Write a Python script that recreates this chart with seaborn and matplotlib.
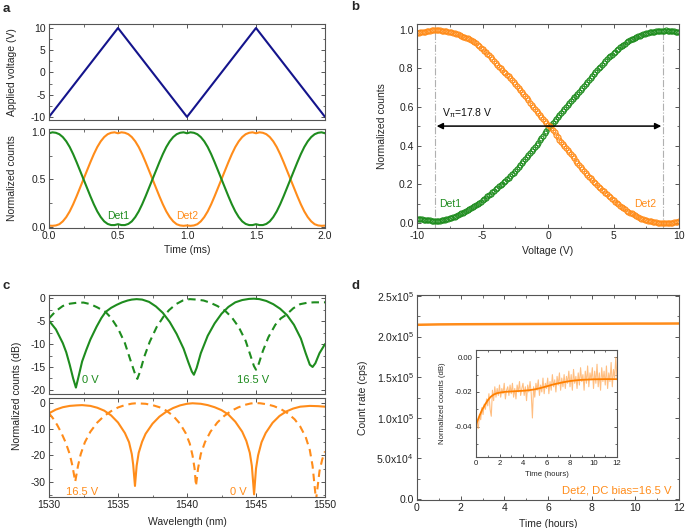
import numpy as np
import pandas as pd
import matplotlib
matplotlib.use("Agg")
import matplotlib.pyplot as plt
import seaborn as sns
from matplotlib.ticker import MultipleLocator, FuncFormatter

# ---------------- data ----------------
# panel a (top): applied voltage triangle
a_time_v = [0.0, 0.5, 1.0, 1.5, 2.0]
a_voltage = [-10, 10, -10, 10, -10]

# panel a (bottom): normalized counts, sampled every 0.025 ms from 0 to 2 ms
a_det1 = [0.985, 0.995, 0.99, 0.975, 0.945, 0.90, 0.84, 0.765, 0.68, 0.59, 0.50, 0.41, 0.32, 0.235, 0.16, 0.10, 0.055, 0.028, 0.016, 0.016, 0.025,
          0.016, 0.016, 0.028, 0.055, 0.10, 0.16, 0.235, 0.32, 0.41, 0.50, 0.59, 0.68, 0.765, 0.84, 0.90, 0.945, 0.975, 0.99, 0.995, 0.985,
          0.995, 0.99, 0.975, 0.945, 0.90, 0.84, 0.765, 0.68, 0.59, 0.50, 0.41, 0.32, 0.235, 0.16, 0.10, 0.055, 0.028, 0.016, 0.016, 0.025,
          0.016, 0.016, 0.028, 0.055, 0.10, 0.16, 0.235, 0.32, 0.41, 0.50, 0.59, 0.68, 0.765, 0.84, 0.90, 0.945, 0.975, 0.99, 0.995, 0.985]
a_det2 = [0.01, 0.008, 0.012, 0.025, 0.055, 0.10, 0.16, 0.235, 0.32, 0.41, 0.50, 0.59, 0.68, 0.765, 0.84, 0.90, 0.945, 0.975, 0.99, 0.995, 0.985,
          0.995, 0.99, 0.975, 0.945, 0.90, 0.84, 0.765, 0.68, 0.59, 0.50, 0.41, 0.32, 0.235, 0.16, 0.10, 0.055, 0.025, 0.012, 0.008, 0.012,
          0.008, 0.012, 0.025, 0.055, 0.10, 0.16, 0.235, 0.32, 0.41, 0.50, 0.59, 0.68, 0.765, 0.84, 0.90, 0.945, 0.975, 0.99, 0.995, 0.985,
          0.995, 0.99, 0.975, 0.945, 0.90, 0.84, 0.765, 0.68, 0.59, 0.50, 0.41, 0.32, 0.235, 0.16, 0.10, 0.055, 0.025, 0.012, 0.008, 0.01]

# panel b: counts vs voltage, sampled every 0.125 V from -10 to 10 V
b_det1 = [0.022, 0.021, 0.02, 0.019, 0.018, 0.017, 0.016, 0.015, 0.014, 0.0135,
          0.013, 0.0125, 0.012, 0.0125, 0.013, 0.014, 0.015, 0.017, 0.02, 0.022,
          0.025, 0.028, 0.031, 0.034, 0.038, 0.042, 0.046, 0.05, 0.055, 0.06,
          0.065, 0.07, 0.075, 0.08, 0.085, 0.09, 0.095, 0.1, 0.106, 0.112,
          0.118, 0.124, 0.131, 0.138, 0.145, 0.152, 0.16, 0.167, 0.175, 0.182,
          0.19, 0.197, 0.205, 0.212, 0.22, 0.227, 0.235, 0.243, 0.252, 0.261,
          0.27, 0.28, 0.29, 0.30, 0.31, 0.32, 0.33, 0.34, 0.35, 0.361,
          0.372, 0.383, 0.395, 0.406, 0.417, 0.428, 0.44, 0.452, 0.465, 0.477,
          0.49, 0.50, 0.51, 0.52, 0.53, 0.54, 0.55, 0.56, 0.57, 0.58,
          0.59, 0.60, 0.61, 0.62, 0.63, 0.64, 0.65, 0.66, 0.67, 0.68,
          0.69, 0.70, 0.71, 0.72, 0.73, 0.74, 0.75, 0.76, 0.77, 0.78,
          0.79, 0.80, 0.81, 0.82, 0.83, 0.84, 0.85, 0.857, 0.865, 0.872,
          0.88, 0.887, 0.895, 0.902, 0.91, 0.916, 0.923, 0.929, 0.935, 0.94,
          0.945, 0.95, 0.955, 0.959, 0.963, 0.966, 0.97, 0.973, 0.977, 0.98,
          0.983, 0.985, 0.987, 0.988, 0.99, 0.991, 0.993, 0.994, 0.995, 0.995,
          0.996, 0.996, 0.997, 0.996, 0.995, 0.994, 0.993, 0.992, 0.991, 0.99,
          0.99]
b_det2 = [0.985, 0.986, 0.988, 0.989, 0.99, 0.991, 0.993, 0.994, 0.996, 0.997,
          0.999, 1.0, 1.0, 0.999, 0.998, 0.996, 0.995, 0.994, 0.993, 0.991,
          0.99, 0.987, 0.985, 0.982, 0.98, 0.976, 0.973, 0.969, 0.965, 0.962,
          0.96, 0.957, 0.955, 0.949, 0.943, 0.936, 0.93, 0.922, 0.915, 0.907,
          0.90, 0.892, 0.885, 0.877, 0.87, 0.86, 0.85, 0.84, 0.83, 0.82,
          0.81, 0.80, 0.79, 0.782, 0.775, 0.767, 0.76, 0.75, 0.74, 0.73,
          0.72, 0.71, 0.70, 0.69, 0.68, 0.668, 0.657, 0.646, 0.635, 0.623,
          0.612, 0.601, 0.59, 0.58, 0.57, 0.56, 0.55, 0.54, 0.53, 0.52,
          0.51, 0.50, 0.49, 0.48, 0.47, 0.457, 0.445, 0.432, 0.42, 0.41,
          0.40, 0.39, 0.38, 0.368, 0.357, 0.346, 0.335, 0.323, 0.312, 0.301,
          0.29, 0.28, 0.27, 0.26, 0.25, 0.241, 0.232, 0.223, 0.215, 0.206,
          0.197, 0.188, 0.18, 0.172, 0.165, 0.157, 0.15, 0.142, 0.135, 0.127,
          0.12, 0.112, 0.105, 0.097, 0.09, 0.083, 0.077, 0.071, 0.065, 0.06,
          0.055, 0.05, 0.045, 0.04, 0.036, 0.031, 0.027, 0.024, 0.021, 0.018,
          0.015, 0.013, 0.011, 0.009, 0.007, 0.005, 0.004, 0.003, 0.002, 0.001,
          0.001, 0.0, 0.0, 0.0, 0.001, 0.002, 0.003, 0.004, 0.006, 0.008,
          0.01]
b_vpi_left, b_vpi_right = -8.65, 8.8

# panel c: transmission spectra (dB)
c_g0_wl = [1530.0, 1530.5, 1531.0, 1531.25, 1531.5, 1531.75, 1531.95, 1532.15, 1532.4, 1532.7, 1533.0, 1533.45, 1533.8, 1534.1,
           1534.5, 1534.9, 1535.3, 1535.7, 1536.0, 1536.35, 1536.75, 1537.25, 1537.75, 1538.25, 1538.75, 1539.25, 1539.75,
           1540.1, 1540.35, 1540.5, 1540.7, 1541.0, 1541.5, 1542.0, 1542.5, 1543.0, 1543.5, 1544.0, 1544.5, 1544.85, 1545.25,
           1545.75, 1546.25, 1546.75, 1547.25, 1547.75, 1548.25, 1548.6, 1548.9, 1549.1, 1549.3, 1549.6, 1550.0]
c_g0_db = [-4.9, -6.8, -9.8, -11.8, -14.5, -17.5, -19.5, -17.0, -13.8, -11.3, -9.0, -6.2, -4.3, -3.0,
           -2.1, -1.45, -0.9, -0.5, -0.3, -0.2, -0.3, -0.8, -1.8, -3.2, -5.2, -7.8, -11.0,
           -14.0, -16.0, -16.7, -15.2, -12.0, -8.2, -5.5, -3.4, -1.9, -0.9, -0.4, -0.15, -0.1, -0.2,
           -0.6, -1.3, -2.3, -3.7, -5.8, -8.8, -12.0, -14.5, -15.0, -14.2, -12.0, -10.0]
c_g165_wl = [1530.0, 1530.5, 1531.0, 1531.5, 1532.0, 1532.5, 1533.0, 1533.5, 1534.1, 1534.5, 1535.0, 1535.5, 1535.9, 1536.2,
             1536.4, 1536.6, 1536.9, 1537.3, 1537.8, 1538.3, 1538.7, 1539.2, 1539.7, 1540.2, 1540.7, 1541.2, 1541.7, 1542.2,
             1542.75, 1543.25, 1543.75, 1544.25, 1544.6, 1544.85, 1545.0, 1545.2, 1545.5, 1545.9, 1546.4, 1546.8, 1547.2,
             1547.7, 1548.2, 1548.7, 1549.2, 1549.6, 1550.0]
c_g165_db = [-4.4, -2.8, -1.7, -1.2, -1.0, -0.95, -1.3, -2.0, -3.0, -4.3, -6.6, -9.8, -13.5, -16.2,
             -17.6, -16.0, -12.8, -9.5, -6.3, -4.0, -2.6, -1.3, -0.5, -0.2, -0.3, -0.5, -1.0, -1.7,
             -2.7, -4.2, -6.3, -9.3, -12.5, -14.8, -15.6, -14.3, -11.5, -8.5, -5.8, -4.4, -3.6,
             -2.2, -1.3, -1.0, -0.9, -0.9, -0.9]
c_o0_wl = [1530.0, 1530.5, 1531.0, 1531.5, 1532.0, 1532.4, 1533.0, 1533.5, 1534.0, 1534.5, 1535.0, 1535.5, 1535.8, 1536.0,
           1536.1, 1536.23, 1536.35, 1536.5, 1536.75, 1537.0, 1537.5, 1538.0, 1538.5, 1539.0, 1539.5, 1540.0, 1540.4,
           1541.0, 1541.5, 1542.0, 1542.5, 1543.0, 1543.5, 1544.0, 1544.3, 1544.55, 1544.7, 1544.86, 1545.0, 1545.15,
           1545.4, 1545.7, 1546.2, 1546.7, 1547.2, 1547.7, 1548.2, 1548.9, 1549.5, 1550.0]
c_o0_db = [-4.0, -2.6, -1.7, -1.2, -1.0, -0.9, -1.2, -1.9, -3.0, -4.8, -7.5, -11.5, -15.0, -19.5,
           -23.5, -31.6, -24.0, -19.0, -14.8, -11.8, -8.0, -5.3, -3.4, -2.0, -1.0, -0.4, -0.2,
           -0.4, -0.9, -1.7, -2.8, -4.5, -7.2, -11.0, -14.5, -19.0, -24.0, -34.8, -25.0, -20.0,
           -15.0, -11.5, -7.6, -5.0, -3.3, -2.2, -1.5, -1.2, -1.3, -1.5]
c_o165_wl = [1530.0, 1530.3, 1530.6, 1530.9, 1531.2, 1531.5, 1531.7, 1531.9, 1532.1, 1532.3, 1532.6, 1533.0, 1533.5,
             1534.0, 1534.5, 1535.0, 1535.5, 1536.0, 1536.3, 1537.0, 1537.5, 1538.0, 1538.5, 1539.0, 1539.5, 1539.9,
             1540.2, 1540.4, 1540.55, 1540.65, 1540.8, 1541.0, 1541.3, 1541.7, 1542.2, 1542.7, 1543.2, 1543.7, 1544.2,
             1544.6, 1544.9, 1545.3, 1545.8, 1546.3, 1546.8, 1547.3, 1547.8, 1548.2, 1548.6, 1548.9, 1549.1, 1549.35,
             1549.6, 1549.8, 1550.0]
c_o165_db = [-4.0, -6.0, -8.5, -11.5, -15.0, -19.5, -24.0, -30.0, -24.0, -19.5, -15.0, -11.0, -7.5,
             -5.0, -3.2, -1.8, -0.9, -0.35, -0.2, -0.4, -0.9, -1.7, -3.0, -5.0, -8.0, -11.5,
             -15.5, -20.0, -25.0, -31.6, -25.0, -19.5, -15.0, -11.0, -7.5, -5.0, -3.1, -1.8, -0.8,
             -0.3, -0.1, -0.2, -0.6, -1.3, -2.4, -4.0, -6.3, -9.0, -13.0, -18.0, -24.0, -37.0,
             -26.0, -21.5, -18.5]

# panel d: long-term count rate
d_time = [0, 1, 2, 3, 4, 5, 6, 7, 8, 9, 10, 11, 12]
d_rate = [2.145e5, 2.150e5, 2.152e5, 2.153e5, 2.154e5, 2.155e5, 2.156e5, 2.157e5, 2.158e5, 2.159e5, 2.160e5, 2.160e5, 2.161e5]

# inset: normalized counts (dB), raw every 0.1 h and smoothed
ins_raw = [-0.045, -0.038, -0.041, -0.033, -0.036, -0.029, -0.033, -0.027, -0.030, -0.024,
           -0.028, -0.021, -0.030, -0.034, -0.019, -0.025, -0.017, -0.023, -0.018, -0.022,
           -0.016, -0.023, -0.018, -0.021, -0.015, -0.024, -0.019, -0.017, -0.022, -0.016,
           -0.021, -0.015, -0.023, -0.018, -0.024, -0.016, -0.020, -0.014, -0.022, -0.018,
           -0.015, -0.022, -0.017, -0.025, -0.016, -0.020, -0.014, -0.021, -0.035, -0.017,
           -0.023, -0.015, -0.019, -0.013, -0.022, -0.016, -0.020, -0.012, -0.021, -0.015,
           -0.018, -0.012, -0.021, -0.014, -0.019, -0.010, -0.017, -0.013, -0.020, -0.011,
           -0.016, -0.009, -0.019, -0.012, -0.017, -0.010, -0.018, -0.011, -0.015, -0.008,
           -0.017, -0.010, -0.019, -0.007, -0.015, -0.011, -0.018, -0.009, -0.016, -0.006,
           -0.014, -0.010, -0.019, -0.008, -0.015, -0.005, -0.017, -0.009, -0.013, -0.006,
           -0.018, -0.008, -0.015, -0.004, -0.017, -0.009, -0.019, -0.006, -0.014, -0.008,
           -0.016, -0.005, -0.018, -0.009, -0.014, -0.003, -0.017, -0.007, -0.012, 0.000,
           -0.013]
ins_fit_t = [0, 0.25, 0.5, 0.75, 1, 1.25, 1.5, 1.75, 2, 2.5, 3, 3.5, 4, 4.5, 5, 5.5, 6, 6.5, 7, 7.5, 8, 8.5, 9, 10, 11, 12]
ins_fit = [-0.039, -0.0345, -0.0305, -0.0275, -0.0248, -0.0228, -0.0215, -0.0208, -0.0204, -0.0199, -0.0197, -0.0195,
           -0.0193, -0.019, -0.0185, -0.0177, -0.0168, -0.0158, -0.015, -0.0143, -0.0137, -0.0133, -0.013, -0.0127,
           -0.0126, -0.0126]

# ---------------- style ----------------
sns.set_theme(style="ticks")
plt.rcParams["font.family"] = ["Liberation Sans", "DejaVu Sans"]
plt.rcParams["axes.unicode_minus"] = False
plt.rcParams["mathtext.default"] = "regular"

GREEN = "#1e8c1e"
ORANGE = "#ff8c1a"
NAVY = "#14148c"
SPINE = "#555555"
FS = 7.5

W, H = 685, 528
fig = plt.figure(figsize=(W / 100, H / 100), dpi=100)


def box(l, t, r, b):
    return [l / W, (H - b) / H, (r - l) / W, (b - t) / H]


def style(ax, xmaj, xmin, ymaj, ymin, fs=FS):
    ax.xaxis.set_major_locator(MultipleLocator(xmaj))
    ax.xaxis.set_minor_locator(MultipleLocator(xmin))
    ax.yaxis.set_major_locator(MultipleLocator(ymaj))
    ax.yaxis.set_minor_locator(MultipleLocator(ymin))
    ax.tick_params(which="both", direction="in", top=True, right=True,
                   labelsize=fs, color=SPINE, labelcolor="#222222", pad=2.5)
    ax.tick_params(which="major", length=3.2, width=0.7)
    ax.tick_params(which="minor", length=1.8, width=0.6)
    for s in ax.spines.values():
        s.set_color(SPINE)
        s.set_linewidth(0.8)
    ax.set_xlabel(ax.get_xlabel(), fontsize=fs)
    ax.set_ylabel(ax.get_ylabel(), fontsize=fs)


# ---------- panel a ----------
axa1 = fig.add_axes(box(49, 24, 325, 120))
sns.lineplot(x=a_time_v, y=a_voltage, ax=axa1, color=NAVY, lw=1.5)
axa1.set_xlim(0, 2)
axa1.set_ylim(-10.7, 10.9)
axa1.set_xlabel("")
axa1.set_ylabel("Applied voltage (V)")
style(axa1, 0.5, 0.25, 5, 2.5)
axa1.tick_params(labelbottom=False)
axa1.yaxis.set_label_coords(-0.116, 0.5)

axa2 = fig.add_axes(box(49, 129, 325, 228))
t_a = np.linspace(0, 2, len(a_det1))
sns.lineplot(x=t_a, y=a_det2, ax=axa2, color=ORANGE, lw=1.5)
sns.lineplot(x=t_a, y=a_det1, ax=axa2, color=GREEN, lw=1.5)
axa2.set_xlim(0, 2)
axa2.set_ylim(-0.015, 1.03)
axa2.set_xlabel("Time (ms)")
axa2.set_ylabel("Normalized counts")
style(axa2, 0.5, 0.25, 0.5, 0.25)
axa2.xaxis.set_major_formatter(FuncFormatter(lambda v, p: f"{v:.1f}"))
axa2.yaxis.set_major_formatter(FuncFormatter(lambda v, p: f"{v:.1f}"))
axa2.yaxis.set_label_coords(-0.116, 0.5)
axa2.xaxis.set_label_coords(0.5, -0.175)
axa2.text(0.5, 0.115, "Det1", color=GREEN, fontsize=FS, ha="center", va="center")
axa2.text(1.0, 0.115, "Det2", color=ORANGE, fontsize=FS, ha="center", va="center")

# ---------- panel b ----------
axb = fig.add_axes(box(417, 24, 679, 228))
v_b = np.linspace(-10, 10, len(b_det1))
for xv in (b_vpi_left, b_vpi_right):
    axb.axvline(xv, color="#b0b0b0", lw=0.8, ls="-.", zorder=1)
sns.lineplot(x=v_b, y=b_det1, ax=axb, color=GREEN, marker="o", markersize=3.6,
             mfc="none", mec=GREEN, mew=0.8, linestyle="none")
sns.lineplot(x=v_b, y=b_det2, ax=axb, color=ORANGE, marker="o", markersize=3.6,
             mfc="none", mec=ORANGE, mew=0.8, linestyle="none")
axb.set_xlim(-10, 10)
axb.set_ylim(-0.025, 1.03)
axb.set_xlabel("Voltage (V)")
axb.set_ylabel("Normalized counts")
style(axb, 5, 2.5, 0.2, 0.1)
axb.yaxis.set_major_formatter(FuncFormatter(lambda v, p: f"{v:.1f}"))
axb.yaxis.set_label_coords(-0.116, 0.5)
axb.xaxis.set_label_coords(0.5, -0.09)
axb.annotate("", xy=(8.65, 0.502), xytext=(-8.5, 0.502),
             arrowprops=dict(arrowstyle="<|-|>", color="black", lw=1.1, mutation_scale=9, shrinkA=0, shrinkB=0))
axb.text(-8.1, 0.567, r"V$_\pi$=17.8 V", fontsize=FS, ha="left", va="center", color="#111111")
axb.text(-7.45, 0.10, "Det1", color=GREEN, fontsize=FS, ha="center", va="center")
axb.text(7.4, 0.10, "Det2", color=ORANGE, fontsize=FS, ha="center", va="center")

# ---------- panel c ----------
DASH = (0, (3.6, 2.4))
axc1 = fig.add_axes(box(49, 295, 325, 394))
sns.lineplot(x=c_g165_wl, y=c_g165_db, ax=axc1, color=GREEN, lw=1.5, linestyle=DASH)
sns.lineplot(x=c_g0_wl, y=c_g0_db, ax=axc1, color=GREEN, lw=1.5)
axc1.set_xlim(1530, 1550)
axc1.set_ylim(-20.9, 0.7)
axc1.set_xlabel("")
axc1.set_ylabel("")
style(axc1, 5, 2.5, 5, 2.5)
axc1.tick_params(labelbottom=False)
axc1.text(1533.0, -17.8, "0 V", color=GREEN, fontsize=FS + 0.5, ha="center", va="center")
axc1.text(1544.8, -17.8, "16.5 V", color=GREEN, fontsize=FS + 0.5, ha="center", va="center")

axc2 = fig.add_axes(box(49, 398, 325, 497))
sns.lineplot(x=c_o165_wl, y=c_o165_db, ax=axc2, color=ORANGE, lw=1.5, linestyle=DASH)
sns.lineplot(x=c_o0_wl, y=c_o0_db, ax=axc2, color=ORANGE, lw=1.5)
axc2.set_xlim(1530, 1550)
axc2.set_ylim(-35.8, 1.8)
axc2.set_xlabel("Wavelength (nm)")
axc2.set_ylabel("")
style(axc2, 5, 2.5, 10, 5)
axc2.xaxis.set_label_coords(0.5, -0.2)
axc2.text(1532.4, -33.8, "16.5 V", color=ORANGE, fontsize=FS + 0.5, ha="center", va="center")
axc2.text(1543.7, -33.8, "0 V", color=ORANGE, fontsize=FS + 0.5, ha="center", va="center")
fig.text(17 / W, (H - 396) / H, "Normalized counts (dB)", rotation=90, fontsize=FS,
         ha="center", va="center", color="#222222")

# ---------- panel d ----------
axd = fig.add_axes(box(417, 295, 679, 500))
sns.lineplot(x=d_time, y=d_rate, ax=axd, color=ORANGE, lw=1.8)
axd.set_xlim(0, 12)
axd.set_ylim(-1.2e3, 2.512e5)
axd.set_xlabel("Time (hours)")
axd.set_ylabel("Count rate (cps)")
style(axd, 2, 1, 5e4, 2.5e4)


def sci(v, p):
    if abs(v) < 1:
        return "0.0"
    e = int(np.floor(np.log10(abs(v))))
    m = v / 10 ** e
    return f"{m:.1f}x10$^{{{e}}}$"


axd.yaxis.set_major_formatter(FuncFormatter(sci))
axd.yaxis.set_label_coords(-0.187, 0.5)
axd.xaxis.set_label_coords(0.5, -0.093)
axd.text(11.67, 1.0e4, "Det2, DC bias=16.5 V", color=ORANGE, fontsize=FS + 0.6, ha="right", va="center")

FSI = 5.6
axi = fig.add_axes(box(476, 350, 617, 457))
t_i = np.linspace(0, 12, len(ins_raw))
sns.lineplot(x=t_i, y=ins_raw, ax=axi, color="#ffb36b", lw=0.8, alpha=0.85)
sns.lineplot(x=ins_fit_t, y=ins_fit, ax=axi, color="#ff8000", lw=1.3)
axi.set_xlim(0, 12)
axi.set_ylim(-0.0575, 0.0042)
axi.set_xlabel("Time (hours)")
axi.set_ylabel("Normalized counts (dB)")
style(axi, 2, 1, 0.02, 0.01, fs=FSI)
axi.tick_params(which="major", length=2.5)
axi.tick_params(which="minor", length=1.5)
axi.yaxis.set_major_formatter(FuncFormatter(lambda v, p: f"{v:.2f}"))
axi.yaxis.set_label_coords(-0.213, 0.5)
axi.xaxis.set_label_coords(0.5, -0.131)

# panel letters
for lbl, x, y in [("a", 6, 9), ("b", 355, 7), ("c", 6, 286), ("d", 356, 286)]:
    fig.text(x / W, (H - y) / H, lbl, fontsize=9.5, fontweight="bold", ha="center", va="center")

fig.savefig("out.png", dpi=100)
